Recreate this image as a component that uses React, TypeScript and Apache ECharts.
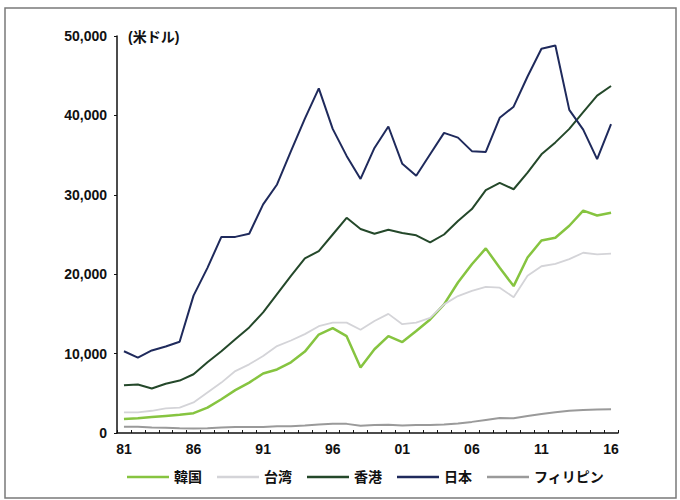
import React, { useEffect, useRef } from "react";
import * as echarts from "echarts";

const years: string[] = [
  "81", "82", "83", "84", "85", "86", "87", "88", "89", "90",
  "91", "92", "93", "94", "95", "96", "97", "98", "99", "00",
  "01", "02", "03", "04", "05", "06", "07", "08", "09", "10",
  "11", "12", "13", "14", "15", "16",
];

const korea: number[] = [
  1750, 1850, 2000, 2150, 2300, 2500, 3200, 4250, 5400, 6350,
  7500, 8000, 8900, 10250, 12400, 13200, 12200, 8250, 10550, 12200,
  11450, 12850, 14300, 16200, 18950, 21250, 23250, 20800, 18500, 22100,
  24250, 24600, 26100, 28000, 27400, 27750,
];

const taiwan: number[] = [
  2600, 2600, 2800, 3100, 3200, 3850, 5100, 6350, 7800, 8650,
  9700, 10950, 11650, 12450, 13450, 13900, 13900, 13000, 14100, 15000,
  13700, 13900, 14500, 16200, 17250, 17900, 18400, 18300, 17100, 19800,
  21000, 21300, 21900, 22700, 22500, 22600,
];

const hongkong: number[] = [
  6000, 6100, 5600, 6200, 6600, 7400, 8900, 10300, 11800, 13300,
  15200, 17500, 19800, 22000, 22900, 25000, 27100, 25700, 25100, 25600,
  25200, 24900, 24000, 25000, 26700, 28200, 30600, 31500, 30700, 32800,
  35100, 36600, 38300, 40400, 42500, 43700,
];

const japan: number[] = [
  10300, 9500, 10400, 10900, 11500, 17300, 20800, 24700, 24700, 25100,
  28800, 31300, 35500, 39600, 43400, 38300, 34900, 32000, 35900, 38600,
  33900, 32400, 35100, 37800, 37200, 35500, 35400, 39700, 41100, 44900,
  48400, 48800, 40700, 38200, 34500, 38900,
];

const philippines: number[] = [
  800, 780, 700, 650, 600, 560, 600, 680, 740, 760,
  760, 850, 860, 960, 1080, 1180, 1150, 900, 1000, 1050,
  950, 1000, 1000, 1080, 1200, 1400, 1650, 1900, 1850, 2150,
  2400, 2600, 2800, 2900, 2950, 3000,
];

const seriesNames: string[] = ["韓国", "台湾", "香港", "日本", "フィリピン"];
const yTicks: number[] = [0, 10000, 20000, 30000, 40000, 50000];

const FONT = "'Liberation Sans', Arial, 'Noto Sans CJK JP', sans-serif";

export default function App() {
  const ref = useRef<HTMLDivElement>(null);

  useEffect(() => {
    if (!ref.current) return;
    const chart = echarts.init(ref.current, undefined, { renderer: "svg" });
    const fmt = (v: number) => String(v).replace(/\B(?=(\d{3})+(?!\d))/g, ",");
    const mk = (name: string, data: number[], color: string, width: number) => ({
      name,
      type: "line",
      data,
      symbol: "none",
      showSymbol: false,
      lineStyle: { color, width },
      itemStyle: { color },
      z: 2,
    });
    chart.setOption({
      animation: false,
      backgroundColor: "#ffffff",
      textStyle: { fontFamily: FONT },
      grid: { left: 117, right: 62, top: 36, bottom: 67, containLabel: false },
      legend: {
        data: seriesNames,
        left: 127,
        top: 470,
        padding: 0,
        icon: "rect",
        itemWidth: 42,
        itemHeight: 2.5,
        itemGap: 15,
        textStyle: {
          fontFamily: FONT,
          fontSize: 14,
          fontWeight: "bold",
          color: "#111",
          padding: [0, 0, 0, 0],
        },
      },
      xAxis: {
        type: "category",
        data: years,
        boundaryGap: true,
        axisLine: { lineStyle: { color: "#111", width: 1.5 } },
        axisTick: { show: true, inside: true, length: 3, interval: 0, lineStyle: { color: "#111" } },
        axisLabel: {
          interval: 4,
          margin: 9,
          fontFamily: FONT,
          fontSize: 14,
          fontWeight: "bold",
          color: "#111",
        },
        splitLine: { show: false },
      },
      yAxis: {
        type: "value",
        min: yTicks[0],
        max: yTicks[yTicks.length - 1],
        interval: 10000,
        axisLine: { show: true, lineStyle: { color: "#111", width: 1.5 } },
        axisTick: { show: true, length: 3, lineStyle: { color: "#111" } },
        axisLabel: {
          margin: 10,
          fontFamily: FONT,
          fontSize: 14,
          fontWeight: "bold",
          color: "#111",
          formatter: (v: number) => fmt(v),
        },
        splitLine: { show: false },
      },
      graphic: [
        {
          type: "rect",
          shape: { x: 5, y: 8, width: 671, height: 490 },
          style: { fill: "none", stroke: "#7a7a7a", lineWidth: 1.5 },
          silent: true,
          z: 0,
        },
        {
          type: "text",
          x: 128,
          y: 37,
          style: {
            text: "(米ドル)",
            fontFamily: FONT,
            fontSize: 14,
            fontWeight: "bold",
            fill: "#111",
            verticalAlign: "middle",
          },
        },
      ],
      series: [
        mk(seriesNames[0], korea, "#86c440", 2.5),
        mk(seriesNames[1], taiwan, "#d4d4d8", 1.8),
        mk(seriesNames[2], hongkong, "#24482a", 2),
        mk(seriesNames[3], japan, "#1f2a5c", 2),
        mk(seriesNames[4], philippines, "#9a9a9a", 2),
      ],
    });
    return () => chart.dispose();
  }, []);

  return (
    <div
      ref={ref}
      style={{ position: "fixed", left: 0, top: 0, width: 680, height: 500 }}
    />
  );
}
